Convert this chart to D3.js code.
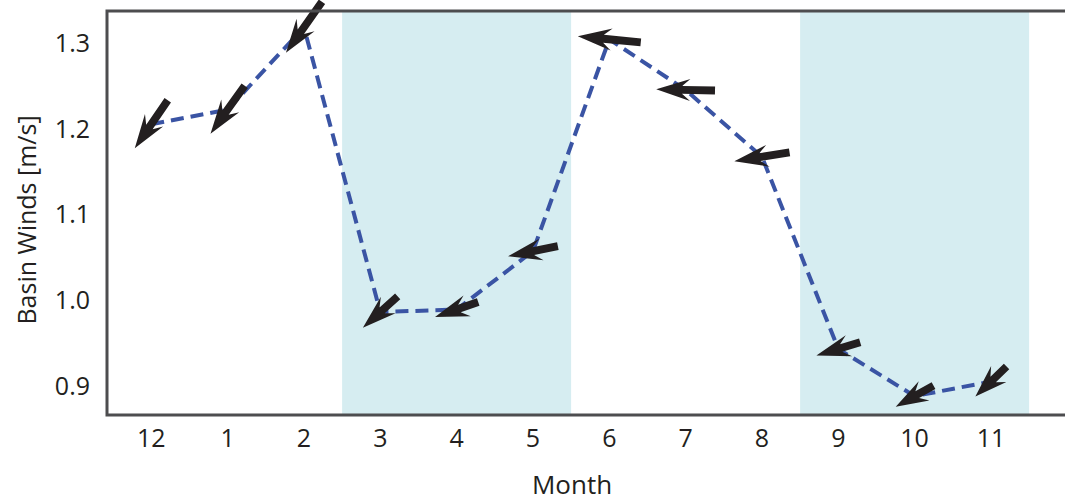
<!DOCTYPE html>
<html>
<head>
<meta charset="utf-8">
<script src="https://cdn.jsdelivr.net/npm/d3@7/dist/d3.min.js"></script>
<style>
  html, body { margin: 0; padding: 0; background: #ffffff; }
  svg { display: block; }
  text { font-family: "Open Sans", "Noto Sans", sans-serif; fill: #231f20; }
</style>
</head>
<body>
<svg id="chart" width="1065" height="502"></svg>
<script>
// Monthly basin-mean wind speed with the mean wind direction as arrows
const months = ["12", "1", "2", "3", "4", "5", "6", "7", "8", "9", "10", "11"];
const windSpeed = [1.205, 1.222, 1.318, 0.986, 0.989, 1.057, 1.304, 1.245, 1.167, 0.943, 0.888, 0.905];
// Wind vector components (east, north)
const windU = [-0.55, -0.57, -0.60, -0.58, -0.72, -0.83, -1.05, -0.98, -0.92, -0.73, -0.63, -0.52];
const windV = [-0.80, -0.80, -0.85, -0.52, -0.25, -0.17, 0.10, 0.02, -0.15, -0.22, -0.35, -0.50];
const yTicks = [0.9, 1.0, 1.1, 1.2, 1.3];
// Shaded seasons, first and last month of each
const seasons = [["3", "5"], ["9", "11"]];

const svg = d3.select("#chart");
const plot = { left: 107, right: 1065, top: 11, bottom: 415 };

const x = d3.scaleLinear().domain([-0.58, 11.97]).range([plot.left, plot.right]);
const y = d3.scaleLinear().domain([0.866, 1.337]).range([plot.bottom, plot.top]);
const quiverScale = 60; // pixels per unit of wind vector

// season shading
svg.append("g").selectAll("rect")
  .data(seasons)
  .join("rect")
  .attr("x", d => x(months.indexOf(d[0]) - 0.5))
  .attr("width", d => x(months.indexOf(d[1]) + 0.5) - x(months.indexOf(d[0]) - 0.5))
  .attr("y", plot.top)
  .attr("height", plot.bottom - plot.top)
  .attr("fill", "#d6edf1");

// dashed speed line
const pts = windSpeed.map((v, i) => [x(i), y(v)]);
svg.append("path")
  .attr("d", d3.line()(pts))
  .attr("fill", "none")
  .attr("stroke", "#3a54a4")
  .attr("stroke-width", 4)
  .attr("stroke-dasharray", "13,7");

// quiver arrows, pivoted at their middle
function arrowPath(L) {
  const w = 3.9, hw = 11, hl = Math.min(34, L * 0.75), ha = hl * 0.76;
  return [
    [0, -w], [L - ha, -w], [L - hl, -hw], [L, 0],
    [L - hl, hw], [L - ha, w], [0, w]
  ];
}
svg.append("g").selectAll("path")
  .data(windSpeed.map((v, i) => ({ i, v, u: windU[i], n: windV[i] })))
  .join("path")
  .attr("d", d => {
    const dx = d.u * quiverScale, dy = -d.n * quiverScale;
    const L = Math.hypot(dx, dy);
    return "M" + arrowPath(L).map(p => p.join(",")).join("L") + "Z";
  })
  .attr("transform", d => {
    const dx = d.u * quiverScale, dy = -d.n * quiverScale;
    const ang = Math.atan2(dy, dx) * 180 / Math.PI;
    const tx = x(d.i) - dx / 2, ty = y(d.v) - dy / 2;
    return `translate(${tx},${ty}) rotate(${ang})`;
  })
  .attr("fill", "#231f20");

// frame: left, top and bottom lines
svg.append("path")
  .attr("d", `M${plot.right},${plot.top}H${plot.left}V${plot.bottom}H${plot.right}`)
  .attr("fill", "none")
  .attr("stroke", "#4d4d4f")
  .attr("stroke-width", 3);

// y tick labels
svg.append("g").selectAll("text")
  .data(yTicks)
  .join("text")
  .attr("x", 90)
  .attr("y", d => y(d))
  .attr("dy", "0.36em")
  .attr("text-anchor", "end")
  .attr("font-size", 25)
  .text(d3.format(".1f"));

// x tick labels
svg.append("g").selectAll("text")
  .data(months)
  .join("text")
  .attr("x", (d, i) => x(i))
  .attr("y", 447)
  .attr("text-anchor", "middle")
  .attr("font-size", 25)
  .text(d => d);

// axis titles
svg.append("text")
  .attr("x", 572).attr("y", 494)
  .attr("text-anchor", "middle")
  .attr("font-size", 26)
  .text("Month");

svg.append("text")
  .attr("transform", "translate(36,220) rotate(-90)")
  .attr("text-anchor", "middle")
  .attr("font-size", 25)
  .text("Basin Winds [m/s]");
</script>
</body>
</html>
